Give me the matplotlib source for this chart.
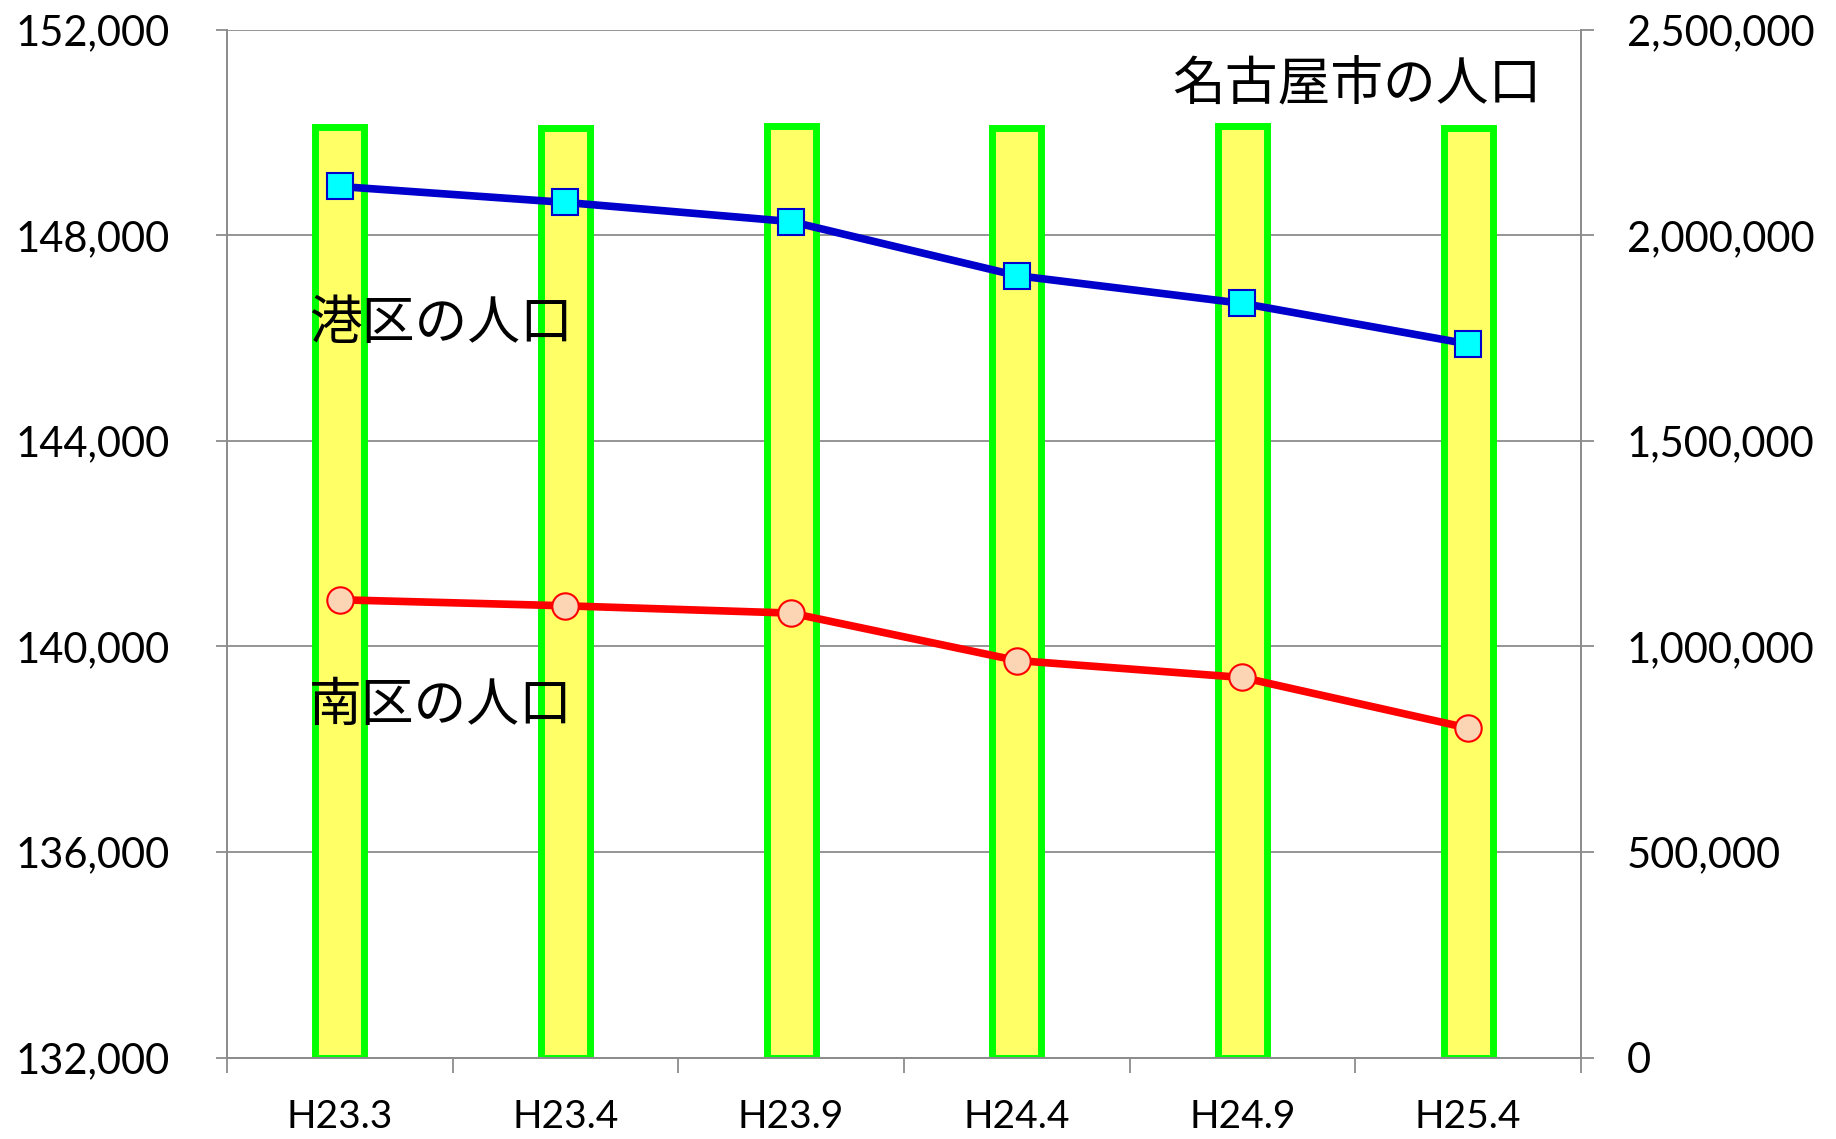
import matplotlib
matplotlib.use("Agg")
import matplotlib.pyplot as plt
from matplotlib.ticker import FuncFormatter, FixedLocator
import numpy as np

categories = ["H23.3", "H23.4", "H23.9", "H24.4", "H24.9", "H25.4"]
nagoya = [2264000, 2262000, 2266000, 2261000, 2266000, 2262000]
minato = [148950, 148640, 148267, 147216, 146676, 145886]
minami = [140909, 140792, 140650, 139727, 139397, 138412]

left_ticks = [132000, 136000, 140000, 144000, 148000, 152000]
right_ticks = [0, 500000, 1000000, 1500000, 2000000, 2500000]

label_font = ['Lato', 'DejaVu Sans']
x_font = ['Lato', 'DejaVu Sans']
jp_font = ['Noto Sans CJK JP', 'DejaVu Sans']
grey = '#8c8c8c'

fig = plt.figure(figsize=(18.36, 11.39), dpi=100)
ax2 = fig.add_axes([0.1236, 0.0714, 0.7375, 0.9025])
ax = ax2.twinx()
ax.set_zorder(ax2.get_zorder() + 1)
ax.patch.set_visible(False)

x = np.arange(len(categories))

# bars (right axis)
ax2.bar(x, nagoya, width=0.217, color='#FFFF66', edgecolor='#00FF00',
        linewidth=5, zorder=2)
ax2.set_ylim(0, 2500000)
ax2.yaxis.set_major_locator(FixedLocator(right_ticks))
ax2.yaxis.set_major_formatter(FuncFormatter(lambda v, p: f"{int(v):,}"))
ax2.yaxis.tick_right()
ax2.grid(axis='y', color=grey, linewidth=1.3)
ax2.set_axisbelow(True)

# lines (left axis)
ax.plot(x, minato, color='#0000CC', linewidth=5.5, marker='s', markersize=19,
        markerfacecolor='#00FFFF', markeredgecolor='#0000CC', markeredgewidth=1.5, zorder=3)
ax.plot(x, minami, color='#FF0000', linewidth=5.5, marker='o', markersize=19,
        markerfacecolor='#FCD5B5', markeredgecolor='#FF0000', markeredgewidth=1.5, zorder=3)
ax.set_ylim(132000, 152000)
ax.yaxis.set_major_locator(FixedLocator(left_ticks))
ax.yaxis.set_major_formatter(FuncFormatter(lambda v, p: f"{int(v):,}"))
ax.yaxis.tick_left()

for a in (ax, ax2):
    a.set_xlim(-0.5, len(categories) - 0.5)
    for s in a.spines.values():
        s.set_color(grey)
        s.set_linewidth(1.3)
    a.spines['top'].set_visible(False)

ax2.set_xticks(x)
ax2.set_xticklabels(categories, fontfamily=x_font, fontsize=28)
ax2.set_xticks(np.arange(-0.5, len(categories), 1.0), minor=True)
ax2.tick_params(axis='x', which='major', length=0, pad=30)
ax2.tick_params(axis='x', which='minor', length=11, width=1.3, color=grey, direction='out')
ax.tick_params(axis='x', which='both', bottom=False, labelbottom=False)

ax.tick_params(axis='y', length=8, width=1.3, color=grey, direction='out', pad=33,
               labelsize=30)
ax2.tick_params(axis='y', length=9, width=1.3, color=grey, direction='out', pad=24,
                labelsize=30)
for lab in ax.get_yticklabels() + ax2.get_yticklabels():
    lab.set_fontfamily(label_font)

ax.text(0.0606, 0.7147, "港区の人口", transform=ax.transAxes, fontfamily=jp_font,
        fontsize=38, ha='left', va='center', zorder=5)
ax.text(0.0606, 0.3431, "南区の人口", transform=ax.transAxes, fontfamily=jp_font,
        fontsize=38, ha='left', va='center', zorder=5)
ax.text(0.971, 0.946, "名古屋市の人口", transform=ax.transAxes, fontfamily=jp_font,
        fontsize=38, ha='right', va='center', zorder=5)

fig.savefig("out.png", dpi=100)
